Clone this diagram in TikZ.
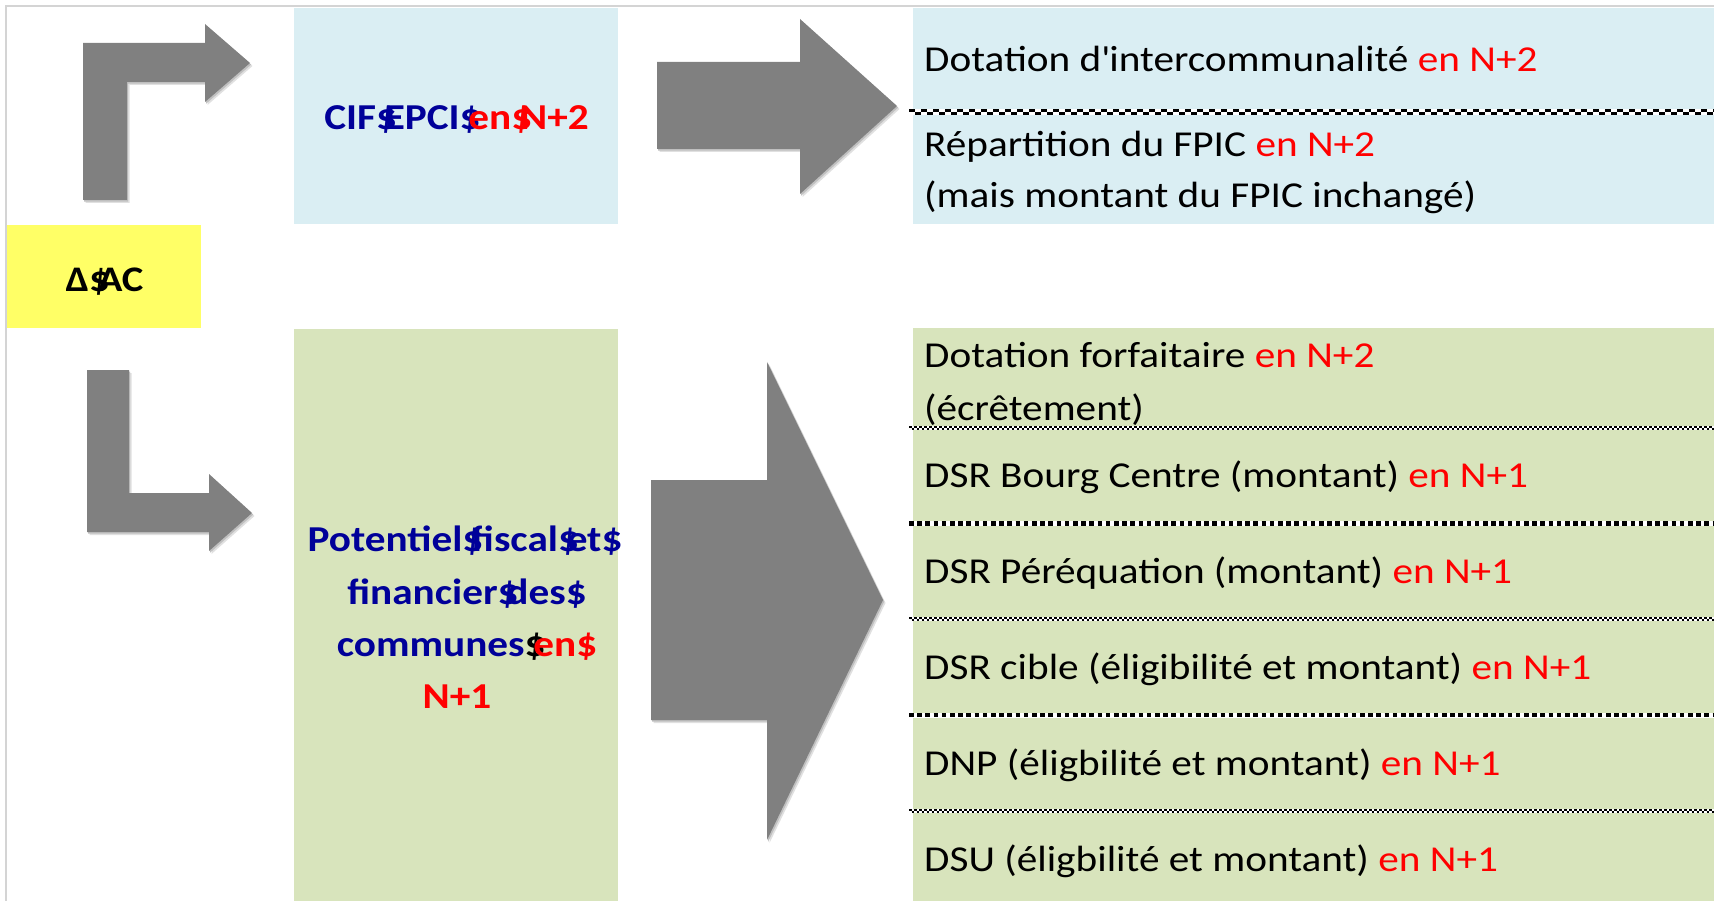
\documentclass[tikz,border=0pt]{standalone}
\usepackage{fontspec}
\setmainfont{Carlito}[FakeStretch=1.13]

\definecolor{pblue}{HTML}{DAEEF3}
\definecolor{pgreen}{HTML}{D8E4BC}
\definecolor{pyellow}{HTML}{FFFF66}
\definecolor{agray}{HTML}{808080}
\definecolor{dkblue}{HTML}{000099}
\definecolor{framegray}{HTML}{D4D4D4}

\newcommand\rd[1]{\textcolor{red}{#1}}
% a dollar sign whose advance is only a space wide, so it runs into the next letter
\newcommand\dol{\makebox[0.24em][l]{\$}}
\newcommand\rowfont{\fontsize{36.5}{44}\selectfont}
\newcommand\keyfont{\fontsize{36.5}{44}\selectfont\bfseries}

% separators between the rows of the right-hand panels
\newcommand\finesep[1]{%
  \draw[white, line width=4.4pt] (909,#1) -- (1714,#1);
  \draw[black, line width=2.2pt, dash pattern=on 2.5pt off 2.5pt] (909,#1-1.1) -- (1714,#1-1.1);
  \draw[black, line width=2.2pt, dash pattern=on 2.5pt off 2.5pt, dash phase=2.5pt] (909,#1+1.1) -- (1714,#1+1.1);}
\newcommand\boldsep[1]{%
  \draw[white, line width=5pt] (909,#1) -- (1714,#1);
  \draw[black, line width=4.6pt, dash pattern=on 4.6pt off 3.6pt] (909,#1) -- (1714,#1);}
\newcommand\widesep[1]{%
  \draw[white, line width=5.4pt] (909,#1) -- (1714,#1);
  \draw[black, line width=2.7pt, dash pattern=on 6pt off 6pt] (909,#1-1.35) -- (1714,#1-1.35);
  \draw[black, line width=2.7pt, dash pattern=on 6pt off 6pt, dash phase=6pt] (909,#1+1.35) -- (1714,#1+1.35);}

\tikzset{
  rowtext/.style={anchor=base west, inner sep=0pt, font=\rowfont, text=black},
  keytext/.style={anchor=base, inner sep=0pt, font=\keyfont, text=dkblue},
}

\begin{document}
\begin{tikzpicture}[x=1pt, y=-1pt]
\useasboundingbox (0,0) rectangle (1714,901);
\fill[white] (0,0) rectangle (1714,901);

% sheet frame
\draw[framegray, line width=2pt] (6,901) -- (6,6) -- (1714,6);

% coloured panels
\fill[pblue]   (294,8)   rectangle (618,224);
\fill[pyellow] (7,225)   rectangle (201,328);
\fill[pgreen]  (294,329) rectangle (618,901);
\fill[pblue]   (913,8)   rectangle (1714,224);
\fill[pgreen]  (913,328) rectangle (1714,901);

% grey arrows, each with a soft drop shadow
\foreach \dx/\dy/\c in {2.5/3/black!12, 1.2/1.6/black!25, 0/0/agray}{
  % bent arrow: up, then right
  \fill[\c, shift={(\dx,\dy)}] (83,200) -- (83,43) -- (205,43) -- (205,24) -- (250,63)
      -- (205,102) -- (205,82) -- (127,82) -- (127,200) -- cycle;
  % bent arrow: down, then right
  \fill[\c, shift={(\dx,\dy)}] (87,370) -- (129,370) -- (129,493) -- (209,493) -- (209,474)
      -- (252,513) -- (209,551) -- (209,532) -- (87,532) -- cycle;
  % block arrow towards the upper panel
  \fill[\c, shift={(\dx,\dy)}] (657,62) -- (800,62) -- (800,19) -- (897,106)
      -- (800,194) -- (800,149) -- (657,149) -- cycle;
  % block arrow towards the lower panel
  \fill[\c, shift={(\dx,\dy)}] (651,480) -- (767,480) -- (767,362) -- (883,600)
      -- (767,840) -- (767,720) -- (651,720) -- cycle;
}

% row separators
\widesep{112}
\finesep{428}
\boldsep{523.5}
\finesep{619}
\boldsep{715}
\finesep{811}

% left-hand labels
\node[keytext, text=black, font=\fontsize{36}{44}\selectfont\bfseries] (dac) at (104.5,292) {Δ\dol AC};
\node[keytext] (cif) at (456.5,130) {CIF\dol EPCI\dol\rd{en\dol N+2}};
\node[keytext] (pot1) at (465,551) {Potentiel\dol fiscal\dol et\$};
\node[keytext] (pot2) at (467,604) {financier\dol des\$};
\node[keytext] (pot3) at (467,656) {communes\textcolor{black}{\dol}\rd{en\$}};
\node[keytext] (pot4) at (457,708) {\rd{N+1}};

% upper panel rows
\node[rowtext] (dinter) at (924,72) {Dotation d\textquotesingle intercommunalité \rd{en N+2}};
\node[rowtext] (fpic1) at (924,157) {Répartition du FPIC \rd{en N+2}};
\node[rowtext] (fpic2) at (924,208) {(mais montant du FPIC inchangé)};

% lower panel rows
\node[rowtext] (dforf1) at (924,367) {Dotation forfaitaire \rd{en N+2}};
\node[rowtext] (dforf2) at (924,420) {(écrêtement)};
\node[rowtext] (dsrbc) at (924,487) {DSR Bourg Centre (montant) \rd{en N+1}};
\node[rowtext] (dsrper) at (924,583) {DSR Péréquation (montant) \rd{en N+1}};
\node[rowtext] (dsrcib) at (924,679) {DSR cible (éligibilité et montant) \rd{en N+1}};
\node[rowtext] (dnp) at (924,775) {DNP (éligbilité et montant) \rd{en N+1}};
\node[rowtext] (dsu) at (924,871) {DSU (éligbilité et montant) \rd{en N+1}};
\end{tikzpicture}
\end{document}
